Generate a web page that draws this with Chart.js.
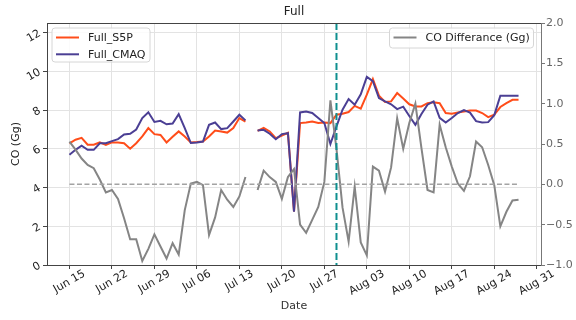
<!DOCTYPE html>
<html>
<head>
<meta charset="utf-8">
<script src="https://cdn.jsdelivr.net/npm/chart.js@4.4.1/dist/chart.umd.min.js"></script>
<style>
  html, body { margin: 0; padding: 0; background: #fff; }
  #wrap { width: 576px; height: 320px; }
</style>
</head>
<body>
<div id="wrap"><canvas id="c" width="576" height="320"></canvas></div>
<script>
// Daily series, index 0 = Jun 15 (null = no data that day, Jul 15)
const s5p = [
  6.28, 6.47, 6.57, 6.21, 6.21, 6.33, 6.20, 6.33, 6.33, 6.29,
  6.01, 6.29, 6.64, 7.07, 6.76, 6.72, 6.33, 6.62, 6.90, 6.64,
  6.33, 6.35, 6.38, 6.64, 6.95, 6.90, 6.84, 7.07, 7.59, 7.41,
  null, 6.93, 7.08, 6.90, 6.55, 6.68, 6.83, 2.77, 7.33, 7.36,
  7.41, 7.33, 7.36, 7.33, 7.76, 7.81, 7.90, 8.22, 8.08, 8.80,
  9.60, 8.75, 8.42, 8.45, 8.88, 8.60, 8.30, 8.19, 8.19, 8.36,
  8.40, 8.36, 7.85, 7.81, 7.88, 7.93, 7.98, 7.98, 7.85, 7.64,
  7.76, 8.16, 8.36, 8.53, 8.53
];
const cmaq = [
  5.69, 5.95, 6.16, 5.95, 5.95, 6.29, 6.29, 6.40, 6.50, 6.74,
  6.78, 7.00, 7.59, 7.89, 7.39, 7.45, 7.27, 7.31, 7.79, 7.07,
  6.30, 6.33, 6.38, 7.24, 7.36, 7.02, 7.07, 7.41, 7.76, 7.47,
  null, 6.95, 6.98, 6.78, 6.50, 6.76, 6.81, 2.76, 7.88, 7.93,
  7.85, 7.59, 7.33, 6.25, 7.16, 8.02, 8.57, 8.28, 8.82, 9.72,
  9.50, 8.62, 8.45, 8.30, 8.05, 8.18, 7.70, 7.24, 7.80, 8.28,
  8.45, 7.60, 7.36, 7.59, 7.85, 8.00, 7.87, 7.43, 7.36, 7.38,
  7.74, 8.74, 8.74, 8.74, 8.74
];
const coDiff = [
  0.53, 0.43, 0.32, 0.24, 0.20, 0.06, -0.10, -0.07, -0.18, -0.42,
  -0.68, -0.68, -0.95, -0.80, -0.62, -0.77, -0.92, -0.73, -0.87, -0.32,
  0.01, 0.03, -0.01, -0.63, -0.41, -0.07, -0.19, -0.28, -0.15, 0.09,
  null, -0.07, 0.17, 0.09, 0.03, -0.18, 0.09, 0.19, -0.50, -0.60,
  -0.44, -0.28, 0.03, 1.04, 0.44, -0.29, -0.71, -0.03, -0.72, -0.88,
  0.22, 0.17, -0.09, 0.21, 0.82, 0.44, 0.76, 1.00, 0.45, -0.07,
  -0.10, 0.74, 0.46, 0.22, 0.01, -0.08, 0.10, 0.53, 0.46, 0.24,
  -0.01, -0.52, -0.34, -0.20, -0.19
];

// Weekly date ticks (day offsets from Jun 15) and their labels
const tickDays = [0, 7, 14, 21, 28, 35, 42, 49, 56, 63, 70, 77];
const tickLabels = ['Jun 15', 'Jun 22', 'Jun 29', 'Jul 06', 'Jul 13', 'Jul 20',
                    'Jul 27', 'Aug 03', 'Aug 10', 'Aug 17', 'Aug 24', 'Aug 31'];
const markerDay = 44; // Jul 29

const FONT = 'DejaVu Sans';
const GRID = '#e3e3e3';
Chart.defaults.font.family = FONT;
Chart.defaults.font.size = 11;
Chart.defaults.color = '#222';

const toPoints = arr => arr.map((v, i) => ({ x: i, y: v }));

function roundRect(ctx, x, y, w, h, r) {
  ctx.beginPath();
  ctx.moveTo(x + r, y);
  ctx.lineTo(x + w - r, y);
  ctx.quadraticCurveTo(x + w, y, x + w, y + r);
  ctx.lineTo(x + w, y + h - r);
  ctx.quadraticCurveTo(x + w, y + h, x + w - r, y + h);
  ctx.lineTo(x + r, y + h);
  ctx.quadraticCurveTo(x, y + h, x, y + h - r);
  ctx.lineTo(x, y + r);
  ctx.quadraticCurveTo(x, y, x + r, y);
  ctx.closePath();
}

function drawLegend(ctx, box, items) {
  ctx.save();
  roundRect(ctx, box.x, box.y, box.w, box.h, 3);
  ctx.fillStyle = 'rgba(255,255,255,0.85)';
  ctx.fill();
  ctx.strokeStyle = '#d6d6d6';
  ctx.lineWidth = 1;
  ctx.stroke();
  ctx.font = '11px ' + FONT;
  ctx.textBaseline = 'middle';
  ctx.textAlign = 'left';
  items.forEach((it, k) => {
    const y = box.y + 9.5 + k * 16.8;
    ctx.strokeStyle = it.color;
    ctx.lineWidth = 2;
    ctx.beginPath();
    ctx.moveTo(box.x + 4, y);
    ctx.lineTo(box.x + 27, y);
    ctx.stroke();
    ctx.fillStyle = '#222';
    ctx.fillText(it.label, box.x + 36, y + 0.5);
  });
  ctx.restore();
}

const decor = {
  id: 'decor',
  afterDatasetsDraw(chart) {
    const { ctx, chartArea: ca, scales } = chart;
    const x = scales.x.getPixelForValue(markerDay);
    ctx.save();
    ctx.strokeStyle = '#0f8f8f';
    ctx.lineWidth = 2;
    ctx.setLineDash([7, 3]);
    ctx.beginPath();
    ctx.moveTo(x, ca.top);
    ctx.lineTo(x, ca.bottom);
    ctx.stroke();
    ctx.restore();
  },
  afterDraw(chart) {
    const { ctx, chartArea: ca, scales } = chart;
    ctx.save();
    // top frame edge
    ctx.strokeStyle = '#444';
    ctx.lineWidth = 1;
    ctx.beginPath();
    ctx.moveTo(ca.left, ca.top + 0.5);
    ctx.lineTo(ca.right, ca.top + 0.5);
    ctx.stroke();

    // title
    ctx.fillStyle = '#222';
    ctx.font = '12px ' + FONT;
    ctx.textAlign = 'center';
    ctx.textBaseline = 'middle';
    ctx.fillText('Full', (ca.left + ca.right) / 2, 12);

    // slanted left-axis labels
    ctx.font = '11px ' + FONT;
    const ys = scales.y;
    ys.ticks.forEach(t => {
      const py = ys.getPixelForValue(t.value);
      ctx.save();
      ctx.translate(40, py);
      ctx.rotate(-Math.PI / 6);
      ctx.textAlign = 'right';
      ctx.textBaseline = 'middle';
      ctx.fillStyle = '#222';
      ctx.fillText(String(t.value), 0, 0);
      ctx.restore();
    });

    // slanted date labels, centred under each tick
    const xs = scales.x;
    tickDays.forEach((d, i) => {
      const px = xs.getPixelForValue(d);
      const w = ctx.measureText(tickLabels[i]).width;
      const cy = ca.bottom + 4.5 + (w * 0.5 + 7) / 2;
      ctx.save();
      ctx.translate(px, cy);
      ctx.rotate(-Math.PI / 6);
      ctx.textAlign = 'center';
      ctx.textBaseline = 'middle';
      ctx.fillStyle = '#222';
      ctx.fillText(tickLabels[i], 0, 0);
      ctx.restore();
    });
    ctx.restore();

    const ds = chart.data.datasets;
    drawLegend(ctx, { x: 52, y: 28, w: 98, h: 34 }, [
      { label: ds[3].label, color: ds[3].borderColor },
      { label: ds[2].label, color: ds[2].borderColor }
    ]);
    drawLegend(ctx, { x: 389.5, y: 28, w: 144, h: 20 }, [
      { label: ds[1].label, color: ds[1].borderColor }
    ]);
  }
};

new Chart(document.getElementById('c'), {
  type: 'line',
  data: {
    datasets: [
      {
        label: 'zero',
        data: [{ x: 0, y: 0 }, { x: s5p.length - 1, y: 0 }],
        yAxisID: 'yR',
        borderColor: '#a3a3a3',
        borderWidth: 1.5,
        borderDash: [5, 2.5],
        pointRadius: 0
      },
      {
        label: 'CO Differance (Gg)',
        data: toPoints(coDiff),
        yAxisID: 'yR',
        borderColor: '#858585',
        borderWidth: 2,
        pointRadius: 0
      },
      {
        label: 'Full_CMAQ',
        data: toPoints(cmaq),
        yAxisID: 'y',
        borderColor: '#4b3f94',
        borderWidth: 2,
        pointRadius: 0
      },
      {
        label: 'Full_S5P',
        data: toPoints(s5p),
        yAxisID: 'y',
        borderColor: '#ff4d1a',
        borderWidth: 2,
        pointRadius: 0
      }
    ]
  },
  options: {
    responsive: false,
    animation: false,
    devicePixelRatio: 1,
    layout: { padding: { top: 23, left: 0, right: 0, bottom: 0 } },
    plugins: { legend: { display: false }, tooltip: { enabled: false } },
    elements: { line: { tension: 0 } },
    scales: {
      x: {
        type: 'linear',
        min: -3.7,
        max: 77.7,
        afterBuildTicks: s => { s.ticks = tickDays.map(v => ({ value: v })); },
        afterFit: s => { s.height = 55; },
        ticks: { display: false },
        grid: { color: GRID, tickColor: '#444', tickLength: 4 },
        border: { color: '#444' },
        title: { display: true, text: 'Date', color: '#333', font: { size: 11 }, padding: { top: 0, bottom: 7 } }
      },
      y: {
        position: 'left',
        min: 0,
        max: 12.5,
        ticks: { stepSize: 2, includeBounds: false, display: false },
        afterFit: s => { s.width = 47; },
        grid: { color: GRID, tickColor: '#444', tickLength: 4 },
        border: { color: '#444' },
        title: { display: true, text: 'CO (Gg)', color: '#222', font: { size: 11 }, padding: { top: 10, bottom: 0 } }
      },
      yR: {
        position: 'right',
        min: -1,
        max: 2,
        ticks: {
          stepSize: 0.5,
          color: '#666',
          padding: 1,
          callback: v => v.toFixed(1).replace('-', '\u2212')
        },
        afterFit: s => { s.width = 35; },
        grid: { drawOnChartArea: false, tickColor: '#777', tickLength: 4 },
        border: { color: '#777' }
      }
    }
  },
  plugins: [decor]
});
</script>
</body>
</html>
